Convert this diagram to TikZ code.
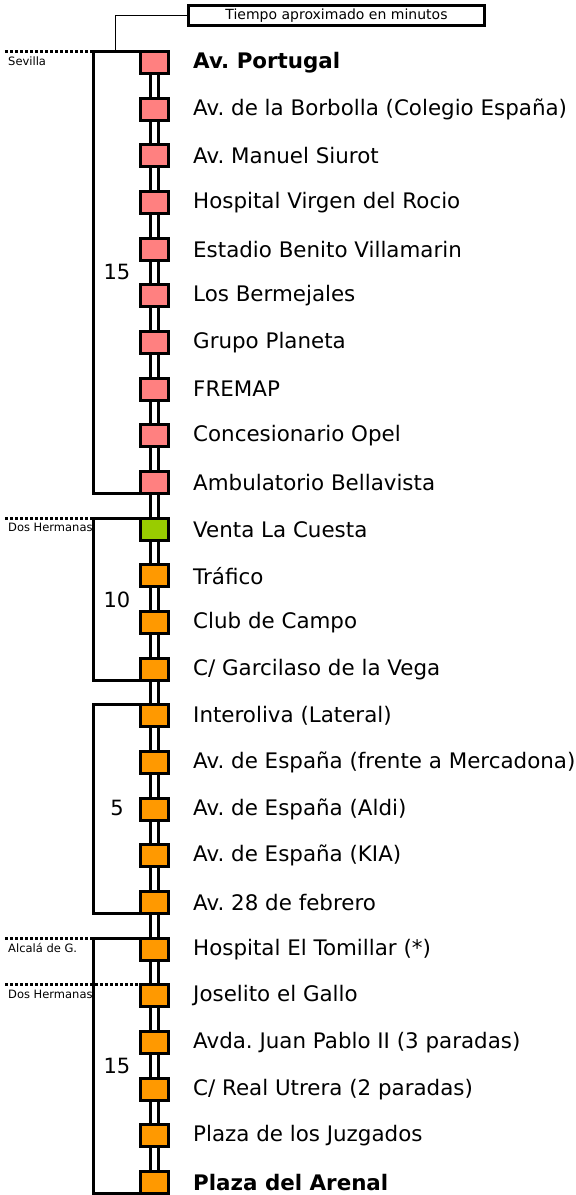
\documentclass[tikz,border=0pt]{standalone}
\usepackage{fontspec}
\setmainfont{DejaVu Sans}
\usetikzlibrary{positioning}

\definecolor{stsevilla}{HTML}{FF8080}
\definecolor{stventa}{HTML}{99CC00}
\definecolor{stdos}{HTML}{FF9900}

\begin{document}
\frenchspacing
\begin{tikzpicture}[x=1pt,y=-1pt,
  station/.style={draw,line width=3pt,minimum width=28pt,minimum height=22pt,
    inner sep=0pt,outer sep=0pt},
  track/.style={double distance=5pt,line width=3pt},
  bracket/.style={line width=3pt},
  muni/.style={line width=3pt,dash pattern=on 3pt off 2pt},
  stopname/.style={font=\fontsize{21.4}{24}\selectfont,inner sep=0pt,anchor=west},
  mins/.style={font=\fontsize{21}{24}\selectfont,inner sep=0pt},
  town/.style={font=\fontsize{11.5}{14}\selectfont,inner sep=0pt,anchor=north west},
  legend/.style={draw,line width=2.5pt,minimum width=296pt,minimum height=20pt,
    inner sep=0pt,font=\fontsize{14}{16}\selectfont}]
\useasboundingbox (0,0) rectangle (576,1195);

% stop positions
\foreach \i in {1,...,25}
  \coordinate (c\i) at (154,{62.5+(\i-1)*46.67});
\coordinate (lm) at (5,0);

% the line
\draw[track] (c1) -- (c25);

% stops
\foreach \i/\col/\name in {
  1/stsevilla/{\textbf{Av. Portugal}},
  2/stsevilla/{Av. de la Borbolla (Colegio España)},
  3/stsevilla/{Av. Manuel Siurot},
  4/stsevilla/{Hospital Virgen del Rocio},
  5/stsevilla/{Estadio Benito Villamarin},
  6/stsevilla/{Los Bermejales},
  7/stsevilla/{Grupo Planeta},
  8/stsevilla/{FREMAP},
  9/stsevilla/{Concesionario Opel},
  10/stsevilla/{Ambulatorio Bellavista},
  11/stventa/{Venta La Cuesta},
  12/stdos/{Tráfico},
  13/stdos/{Club de Campo},
  14/stdos/{C/ Garcilaso de la Vega},
  15/stdos/{Interoliva (Lateral)},
  16/stdos/{Av. de España (frente a Mercadona)},
  17/stdos/{Av. de España (Aldi)},
  18/stdos/{Av. de España (KIA)},
  19/stdos/{Av. 28 de febrero},
  20/stdos/{Hospital El Tomillar (*)},
  21/stdos/{Joselito el Gallo},
  22/stdos/{Avda. Juan Pablo II (3 paradas)},
  23/stdos/{C/ Real Utrera (2 paradas)},
  24/stdos/{Plaza de los Juzgados},
  25/stdos/{\textbf{Plaza del Arenal}}}
{
  \node[station,fill=\col] (s\i) at (c\i) {};
  \node[stopname,right=25pt of s\i] (n\i) {\name};
}

% time brackets
\draw[bracket] (s1.north west) -- ++(-46.5,0) |- (s10.south west);
\draw[bracket] (s11.north west) -- ++(-46.5,0) |- (s14.south west);
\draw[bracket] (s15.north west) -- ++(-46.5,0) |- (s19.south west);
\draw[bracket] (s20.north west) -- ++(-46.5,0) |- (s25.south west);
\node[mins] (t1) at (117,272) {15};
\node[mins] (t2) at (117,600) {10};
\node[mins] (t3) at (117,808) {5};
\node[mins] (t4) at (117,1066) {15};

% municipal limits
\draw[muni] (s1.north west -| lm) -- ++(88.5,0);
\draw[muni] (s11.north west -| lm) -- ++(88.5,0);
\draw[muni] (s20.north west -| lm) -- ++(88.5,0);
\draw[muni] (s21.north west -| lm) -- (s21.north west);
\node[town] (m1) at ([shift={(3pt,-5pt)}]s1.north west -| lm) {Sevilla};
\node[town] (m2) at ([shift={(3pt,-5pt)}]s11.north west -| lm) {Dos Hermanas};
\node[town] (m3) at ([shift={(3pt,-5pt)}]s20.north west -| lm) {Alcalá de G.};
\node[town] (m4) at ([shift={(3pt,-5pt)}]s21.north west -| lm) {Dos Hermanas};

% legend
\node[legend] (key) at (336.5,15.5) {Tiempo aproximado en minutos};
\coordinate (b1) at ([xshift=-25pt]s1.north west);
\draw[thin] (key.west) -| (b1);
\end{tikzpicture}
\end{document}
